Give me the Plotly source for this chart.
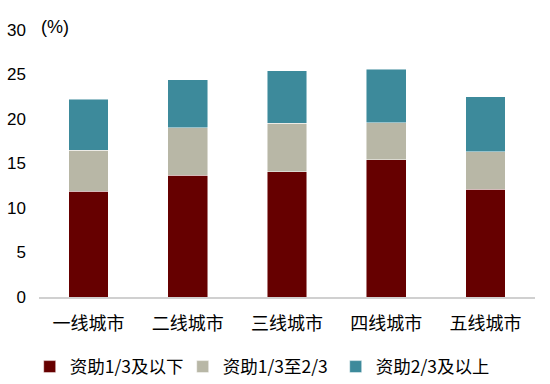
import plotly.graph_objects as go

categories = ["一线城市", "二线城市", "三线城市", "四线城市", "五线城市"]
series_names = ["资助1/3及以下", "资助1/3至2/3", "资助2/3及以上"]
low_values = [11.9, 13.7, 14.1, 15.4, 12.1]
mid_values = [4.6, 5.3, 5.4, 4.2, 4.2]
high_values = [5.7, 5.4, 5.9, 6.0, 6.2]
y_ticks = [0, 5, 10, 15, 20, 25, 30]

colors = ["#660000", "#B8B7A6", "#3D8A9B"]

fig = go.Figure()
for name, vals, col in zip(series_names, [low_values, mid_values, high_values], colors):
    fig.add_trace(go.Bar(
        x=categories, y=vals, name=name,
        marker=dict(color=col, line=dict(width=0.8, color="rgba(255,255,255,0.6)")),
    ))

fig.update_layout(
    barmode="stack",
    bargap=0.6,
    width=550, height=384,
    margin=dict(l=39, r=15, t=30, b=87, autoexpand=False),
    plot_bgcolor="white", paper_bgcolor="white",
    font=dict(family="Liberation Sans, Arial, Noto Sans CJK SC", color="#000000"),
    showlegend=True,
    legend=dict(
        orientation="h", xref="container", yref="container",
        x=0.054, xanchor="left", y=0.045, yanchor="middle",
        font=dict(family="Noto Sans CJK SC", size=17.5, color="#000000"),
        itemwidth=30, traceorder="normal", entrywidth=108, entrywidthmode="pixels",
    ),
    xaxis=dict(
        showline=True, linecolor="#D0D0D0", linewidth=2,
        showgrid=False, ticks="", automargin=False,
        ticklabelstandoff=9,
        tickfont=dict(family="Noto Sans CJK SC", size=18, color="#000000"),
    ),
    yaxis=dict(
        range=[0, 30], tickvals=y_ticks, showgrid=False, zeroline=False,
        showline=False, ticks="", automargin=False,
        ticklabelstandoff=12,
        tickfont=dict(family="Liberation Sans, Arial", size=17, color="#000000"),
    ),
    annotations=[dict(
        text="(%)", xref="paper", yref="paper", x=0.0, y=1.011,
        xanchor="left", yanchor="middle", showarrow=False,
        font=dict(family="Liberation Sans, Arial", size=18, color="#000000"),
    )],
)

fig.write_html(
    "out.html",
    config={"displayModeBar": False},
    post_script="document.body.style.margin='0';document.body.style.padding='0';",
)
